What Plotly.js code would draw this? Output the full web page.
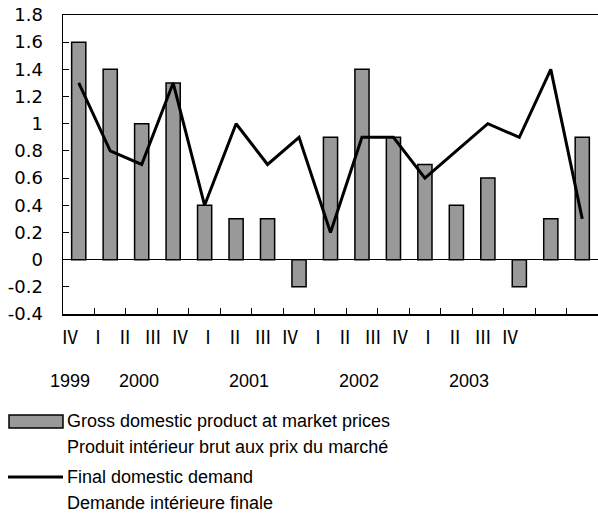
<!DOCTYPE html>
<html>
<head>
<meta charset="utf-8">
<script src="https://cdn.plot.ly/plotly-3.0.1.min.js"></script>
<style>html,body{margin:0;padding:0;background:#fff;}#chart{width:598px;height:516px;}</style>
</head>
<body>
<div id="chart"></div>
<script>
// Data
var periods = ["1999-IV","2000-I","2000-II","2000-III","2000-IV","2001-I","2001-II","2001-III","2001-IV","2002-I","2002-II","2002-III","2002-IV","2003-I","2003-II","2003-III","2003-IV"];
var quarterLabels = ["Ⅳ","Ⅰ","Ⅱ","Ⅲ","Ⅳ","Ⅰ","Ⅱ","Ⅲ","Ⅳ","Ⅰ","Ⅱ","Ⅲ","Ⅳ","Ⅰ","Ⅱ","Ⅲ","Ⅳ"];
var yearLabels = ["1999","2000","2001","2002","2003"];
var yearCenters = [0, 2.5, 6.5, 10.5, 14.5]; // label index centre of each year's quarters
var gdp = [1.6,1.4,1.0,1.3,0.4,0.3,0.3,-0.2,0.9,1.4,0.9,0.7,0.4,0.6,-0.2,0.3,0.9];
var demand = [1.3,0.8,0.7,1.3,0.4,1.0,0.7,0.9,0.2,0.9,0.9,0.6,0.8,1.0,0.9,1.4,0.3];
var yTickVals = [-0.4,-0.2,0,0.2,0.4,0.6,0.8,1,1.2,1.4,1.6,1.8];
var yTickText = ["-0.4","-0.2","0","0.2","0.4","0.6","0.8","1","1.2","1.4","1.6","1.8"];
var seriesNames = ["Gross domestic product at market prices","Produit intérieur brut aux prix du marché","Final domestic demand","Demande intérieure finale"];

// Layout geometry (pixels)
var W = 598, H = 516, L = 63, R = 0, T = 15, B = 202;
var plotW = W - L - R, plotH = H - T - B;
function px2x(px){ return (px - L) / plotW; }
function py2y(py){ return (H - B - py) / plotH; }

var font = "Liberation Sans, Arial, sans-serif";
var fs = 18;
var annotations = [];
// quarter labels (separate evenly spaced row as in the reference)
var qStart = 70, qStep = 27.5;
quarterLabels.forEach(function(q, i){
  annotations.push({xref:"paper", yref:"paper", x:px2x(qStart + qStep*i), y:py2y(336),
    text:q, showarrow:false, xanchor:"center", yanchor:"middle",
    font:{family:"Noto Sans CJK JP, " + font, size:18, color:"#000"}});
});
yearLabels.forEach(function(yl, i){
  annotations.push({xref:"paper", yref:"paper", x:px2x(qStart + qStep*yearCenters[i]), y:py2y(381),
    text:yl, showarrow:false, xanchor:"center", yanchor:"middle",
    font:{family:font, size:fs, color:"#000"}});
});
// legend texts
var legY = [421, 447, 477, 503];
seriesNames.forEach(function(t, i){
  annotations.push({xref:"paper", yref:"paper", x:px2x(65), y:py2y(legY[i]),
    text:t, showarrow:false, xanchor:"left", yanchor:"middle",
    font:{family:font, size:fs, color:"#000"}});
});

var shapes = [
  {type:"rect", xref:"paper", yref:"paper", x0:px2x(9), x1:px2x(63), y0:py2y(415), y1:py2y(428),
   fillcolor:"#999999", line:{color:"#000", width:1.5}},
  {type:"line", xref:"paper", yref:"paper", x0:px2x(8), x1:px2x(63), y0:py2y(477), y1:py2y(477),
   line:{color:"#000", width:3}}
];

var traces = [
  {type:"bar", x:periods, y:gdp, name:seriesNames[0],
   marker:{color:"#999999", line:{color:"#000", width:1.5}}, showlegend:false, hoverinfo:"skip"},
  {type:"scatter", mode:"lines", x:periods, y:demand, name:seriesNames[2],
   line:{color:"#000", width:3}, showlegend:false, hoverinfo:"skip"}
];

var layout = {
  width:W, height:H,
  margin:{l:L, r:R, t:T, b:B, pad:0},
  paper_bgcolor:"#fff", plot_bgcolor:"#fff",
  bargap:0.55,
  showlegend:false,
  font:{family:font, size:fs, color:"#000"},
  xaxis:{type:"category", showticklabels:false, ticks:"inside", ticklen:6, tickcolor:"#000",
         tickson:"boundaries", showline:true, linecolor:"#000", linewidth:1.5, mirror:true,
         showgrid:false, zeroline:false, range:[-0.5, 16.5], fixedrange:true},
  yaxis:{range:[-0.4,1.8], tickvals:yTickVals, ticktext:yTickText, ticks:"inside", ticklen:6,
         tickcolor:"#000", showline:true, linecolor:"#000", linewidth:1.5, mirror:false,
         showgrid:false, zeroline:true, zerolinecolor:"#000", zerolinewidth:1,
         ticklabelstandoff:15, tickfont:{family:"DejaVu Sans, " + font, size:18, color:"#000"}, fixedrange:true},
  annotations:annotations,
  shapes:shapes
};

Plotly.newPlot("chart", traces, layout, {staticPlot:true, displayModeBar:false});
</script>
</body>
</html>
